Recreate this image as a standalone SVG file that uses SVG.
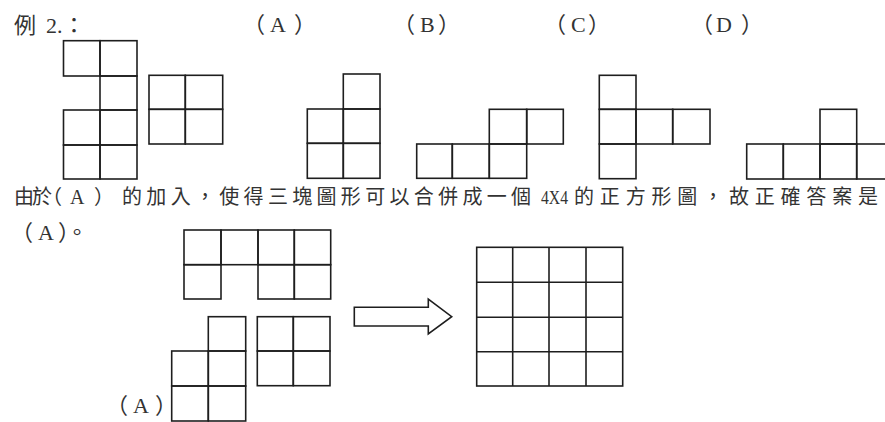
<svg xmlns="http://www.w3.org/2000/svg" width="885" height="422" viewBox="0 0 885 422">
<style>
.bg{fill:#ffffff}
.c{fill:none;stroke:#1e1e1e;stroke-width:1.6}
.t{font-family:"Liberation Serif","Noto Sans CJK TC",serif;fill:#333333}
.h{font-size:22px}
.b{font-size:20px}
.n{font-size:18px}
.arrow{fill:#ffffff;stroke:#1e1e1e;stroke-width:1.6;stroke-linejoin:miter}
</style>
<rect class="bg" x="0" y="0" width="885" height="422"/>

<g id="title">
<text class="t h" x="14" y="33">例</text>
<text class="t h" x="46" y="33">2.</text>
<text class="t h" x="63" y="33">：</text>
</g>
<g id="label-A"><text class="t h" x="243 270 294" y="32">（A）</text></g>
<g id="label-B"><text class="t h" x="393 420 438" y="32">（B）</text></g>
<g id="label-C"><text class="t h" x="544 571 588" y="32">（C）</text></g>
<g id="label-D"><text class="t h" x="691 716 741" y="32">（D）</text></g>

<g id="shape-given-1">
<rect class="c" x="63.5" y="40.7" width="36.5" height="35.3"/>
<rect class="c" x="100" y="40.7" width="37" height="35.3"/>
<rect class="c" x="100" y="76" width="37" height="34"/>
<rect class="c" x="63.5" y="110" width="36.5" height="35"/>
<rect class="c" x="100" y="110" width="37" height="35"/>
<rect class="c" x="63.5" y="145" width="36.5" height="34"/>
<rect class="c" x="100" y="145" width="37" height="34"/>
</g>
<g id="shape-given-2">
<rect class="c" x="149" y="75.3" width="36.3" height="34"/>
<rect class="c" x="185.3" y="75.3" width="37.4" height="34"/>
<rect class="c" x="149" y="109.3" width="36.3" height="34.7"/>
<rect class="c" x="185.3" y="109.3" width="37.4" height="34.7"/>
</g>
<g id="option-A">
<rect class="c" x="343.3" y="74" width="36.7" height="35"/>
<rect class="c" x="307.3" y="109" width="36" height="34.3"/>
<rect class="c" x="343.3" y="109" width="36.7" height="34.3"/>
<rect class="c" x="307.3" y="143.3" width="36" height="35"/>
<rect class="c" x="343.3" y="143.3" width="36.7" height="35"/>
</g>
<g id="option-B">
<rect class="c" x="489.3" y="109.3" width="37.4" height="34.7"/>
<rect class="c" x="526.7" y="109.3" width="36.6" height="34.7"/>
<rect class="c" x="416.7" y="144" width="35.6" height="34.3"/>
<rect class="c" x="452.3" y="144" width="37" height="34.3"/>
<rect class="c" x="489.3" y="144" width="37.4" height="34.3"/>
</g>
<g id="option-C">
<rect class="c" x="599.3" y="75.3" width="36.7" height="34"/>
<rect class="c" x="599.3" y="109.3" width="36.7" height="34.7"/>
<rect class="c" x="636" y="109.3" width="36.7" height="34.7"/>
<rect class="c" x="672.7" y="109.3" width="37.3" height="34.7"/>
<rect class="c" x="599.3" y="144" width="36.7" height="34.7"/>
</g>
<g id="option-D">
<rect class="c" x="820" y="109.3" width="36.7" height="34.7"/>
<rect class="c" x="746.7" y="144" width="36.6" height="35"/>
<rect class="c" x="783.3" y="144" width="36.7" height="35"/>
<rect class="c" x="820" y="144" width="36.7" height="35"/>
<rect class="c" x="856.7" y="144" width="36.3" height="35"/>
</g>

<g id="explanation">
<text class="t b" x="14 32 42 70 94" y="204">由於（A）</text>
<text class="t b" x="122" y="204" textLength="409" lengthAdjust="spacing">的加入，使得三塊圖形可以合併成一個</text>
<text class="t n" x="541" y="204" textLength="27" lengthAdjust="spacingAndGlyphs">4X4</text>
<text class="t b" x="574" y="204" textLength="304" lengthAdjust="spacing">的正方形圖，故正確答案是</text>
<text class="t h" x="11 38 58 66" y="240">（A）。</text>
</g>

<g id="piece-top">
<rect class="c" x="184" y="230" width="37" height="34.7"/>
<rect class="c" x="221" y="230" width="37" height="34.7"/>
<rect class="c" x="258" y="230" width="36.3" height="34.7"/>
<rect class="c" x="294.3" y="230" width="36.4" height="34.7"/>
<rect class="c" x="184" y="264.7" width="37" height="34.3"/>
<rect class="c" x="258" y="264.7" width="36.3" height="34.3"/>
<rect class="c" x="294.3" y="264.7" width="36.4" height="34.3"/>
</g>
<g id="piece-A">
<rect class="c" x="208.3" y="316.7" width="37.4" height="34.3"/>
<rect class="c" x="171.7" y="351" width="36.6" height="35"/>
<rect class="c" x="208.3" y="351" width="37.4" height="35"/>
<rect class="c" x="171.7" y="386" width="36.6" height="35"/>
<rect class="c" x="208.3" y="386" width="37.4" height="35"/>
<text class="t h" x="106 133 155" y="413">（A）</text>
</g>
<g id="piece-square">
<rect class="c" x="257.3" y="316.7" width="36" height="34.3"/>
<rect class="c" x="293.3" y="316.7" width="36.7" height="34.3"/>
<rect class="c" x="257.3" y="351" width="36" height="34.7"/>
<rect class="c" x="293.3" y="351" width="36.7" height="34.7"/>
</g>

<g id="connectors">
<polygon class="arrow" points="354.3,307.3 428.3,307.3 428.3,299 451.7,316.7 428.3,334 428.3,326 354.3,326"/>
</g>

<g id="result-grid">
<rect class="c" x="476.7" y="247.3" width="146" height="138.7"/>
<line class="c" x1="512.7" y1="247.3" x2="512.7" y2="386"/>
<line class="c" x1="549" y1="247.3" x2="549" y2="386"/>
<line class="c" x1="586" y1="247.3" x2="586" y2="386"/>
<line class="c" x1="476.7" y1="282.3" x2="622.7" y2="282.3"/>
<line class="c" x1="476.7" y1="317.3" x2="622.7" y2="317.3"/>
<line class="c" x1="476.7" y1="351.7" x2="622.7" y2="351.7"/>
</g>
</svg>
